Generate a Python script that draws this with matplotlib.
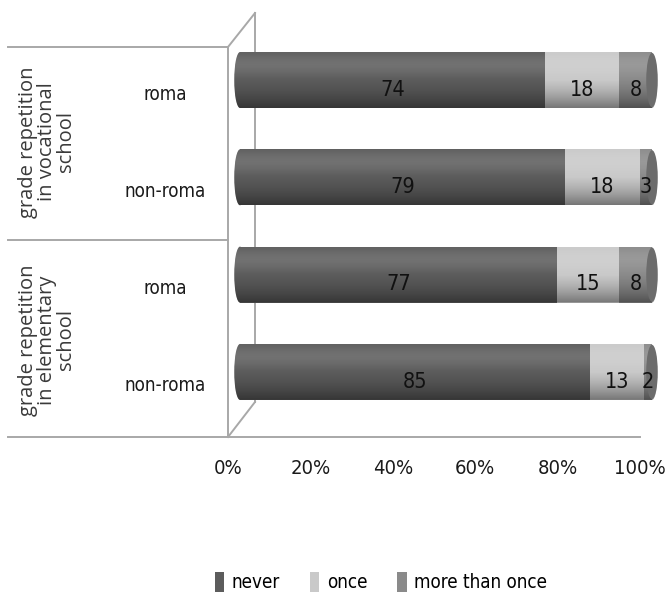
import numpy as np
import matplotlib
matplotlib.use("Agg")
import matplotlib.pyplot as plt
from matplotlib.lines import Line2D
from matplotlib.patches import Ellipse
from matplotlib.path import Path
from matplotlib.font_manager import FontProperties

# ---- data -------------------------------------------------------------
groups = ["grade repetition\nin vocational\nschool",
          "grade repetition\nin elementary\nschool"]
categories = ["roma", "non-roma", "roma", "non-roma"]
never = [74, 79, 77, 85]
once = [18, 18, 15, 13]
more_than_once = [8, 3, 8, 2]
series_names = ["never", "once", "more than once"]
tick_values = [0, 20, 40, 60, 80, 100]
tick_labels = ["0%", "20%", "40%", "60%", "80%", "100%"]

# ---- style ------------------------------------------------------------
def narrow(size):
    return FontProperties(family="DejaVu Sans", stretch="condensed", size=size)


colors = ["#5c5c5c", "#c9c9c9", "#8a8a8a"]
cap_color = "#6c6c6c"
line_color = "#a8a8a8"
W, H = 667, 592


def fx(px):
    return px / W


def fy(py):
    return 1 - py / H


fig = plt.figure(figsize=(W / 100, H / 100), dpi=100)
fig.patch.set_facecolor("white")

# front plane: floor line, percent ticks and category labels
ax2 = fig.add_axes([fx(228), fy(437), (640 - 228) / W, (437 - 25) / H])
ax2.set_xlim(0, 100)
ax2.set_ylim(3.546, -0.689)
ax2.patch.set_visible(False)
for s in ["top", "right", "left"]:
    ax2.spines[s].set_visible(False)
ax2.spines["bottom"].set_color(line_color)
ax2.spines["bottom"].set_linewidth(1.4)
ax2.set_xticks(tick_values)
ax2.set_xticklabels(tick_labels, fontproperties=narrow(14.5), color="#1a1a1a")
ax2.set_yticks(range(len(categories)))
ax2.set_yticklabels(categories, fontproperties=narrow(13.5), color="#1a1a1a",
                    ha="center")
ax2.tick_params(axis="x", length=0, pad=16)
ax2.tick_params(axis="y", length=0, pad=45)

# cylinders
ax = fig.add_axes([fx(240 - 3 * 4.12), fy(402), (106 * 4.12) / W, (402 - 13) / H])
ax.set_xlim(-3, 103)
ax.set_ylim(3.309, -0.6886)
ax.axis("off")

y = np.arange(len(categories))
bar_h = 0.575
series = [np.array(never), np.array(once), np.array(more_than_once)]
left = np.zeros(len(categories))
containers = []
for vals, col, name in zip(series, colors, series_names):
    bc = ax.barh(y, vals, left=left, height=bar_h, color=col, label=name,
                 edgecolor="none", zorder=2)
    containers.append(bc)
    left = left + vals
totals = left

cap_w = 2.8
# smooth vertical shading to give the bars a rounded look
t = np.linspace(0, 1, 128)
m = (1 + 0.13 * np.exp(-((t - 0.22) / 0.2) ** 2)
     - 0.42 * np.clip((t - 0.4) / 0.6, 0, 1) ** 1.7)
shade = np.zeros((128, 1, 4))
shade[:, 0, :3] = np.where(m > 1, 1.0, 0.0)[:, None]
shade[:, 0, 3] = np.abs(m - 1)

for yi, tot in zip(y, totals):
    # left rounded end
    ax.add_patch(Ellipse((0, yi), cap_w, bar_h, facecolor=colors[0],
                         edgecolor="none", zorder=1.9))
    # outline for clipping: rounded left end, straight body, rounded right end
    th = np.linspace(np.pi / 2, 3 * np.pi / 2, 40)
    lx = cap_w / 2 * np.cos(th)
    ly = yi - bar_h / 2 * np.sin(th)
    th2 = np.linspace(-np.pi / 2, np.pi / 2, 40)
    rx = tot + cap_w / 2 * np.cos(th2)
    ry = yi - bar_h / 2 * np.sin(th2)
    verts = np.concatenate([np.c_[lx, ly], np.c_[rx, ry], [[lx[0], ly[0]]]])
    clip = Path(verts, closed=True)
    im = ax.imshow(shade, extent=(-cap_w, tot + cap_w, yi + bar_h / 2, yi - bar_h / 2),
                   aspect="auto", interpolation="bilinear", zorder=3)
    im.set_clip_path(clip, transform=ax.transData)
    # visible end face on the right
    ax.add_patch(Ellipse((tot, yi), cap_w, bar_h * 0.97, facecolor=cap_color,
                         edgecolor="none", zorder=4))

ax.set_xlim(-3, 103)
ax.set_ylim(3.309, -0.6886)

# value labels
for vals, base in zip(series, [np.zeros(4), series[0], series[0] + series[1]]):
    for yi, v, b in zip(y, vals, base):
        ax.annotate(f"{v}", xy=(b + v / 2, yi), xytext=(0, -7),
                    textcoords="offset points", ha="center", va="center",
                    fontproperties=narrow(15.5), color="#111111", zorder=5)

# table grid and back-wall edges
segs = [
    [(8, 47), (228, 47)],
    [(8, 240), (228, 240)],
    [(8, 437), (228, 437)],
    [(228, 47), (228, 437)],
    [(228, 47), (255, 13)],
    [(255, 13), (255, 402)],
    [(228, 437), (255, 402)],
]
for (x0, y0), (x1, y1) in segs:
    fig.add_artist(Line2D([fx(x0), fx(x1)], [fy(y0), fy(y1)],
                          transform=fig.transFigure, color=line_color,
                          linewidth=1.4, zorder=0))

# group labels
for label, cy in zip(groups, [142, 340]):
    fig.text(fx(47), fy(cy), label, rotation=90, ha="center", va="center",
             fontfamily=["Open Sans", "DejaVu Sans"], fontsize=14.5,
             color="#3a3a3a", linespacing=0.95, multialignment="center")

# legend
fig.legend(handles=containers, labels=series_names, loc="center",
           bbox_to_anchor=(fx(381), fy(582)), ncol=3, frameon=False,
           handlelength=0.5, handleheight=1.3, handletextpad=0.4,
           columnspacing=1.6, prop=narrow(13.5))

fig.savefig("out.png", dpi=100, facecolor="white")
